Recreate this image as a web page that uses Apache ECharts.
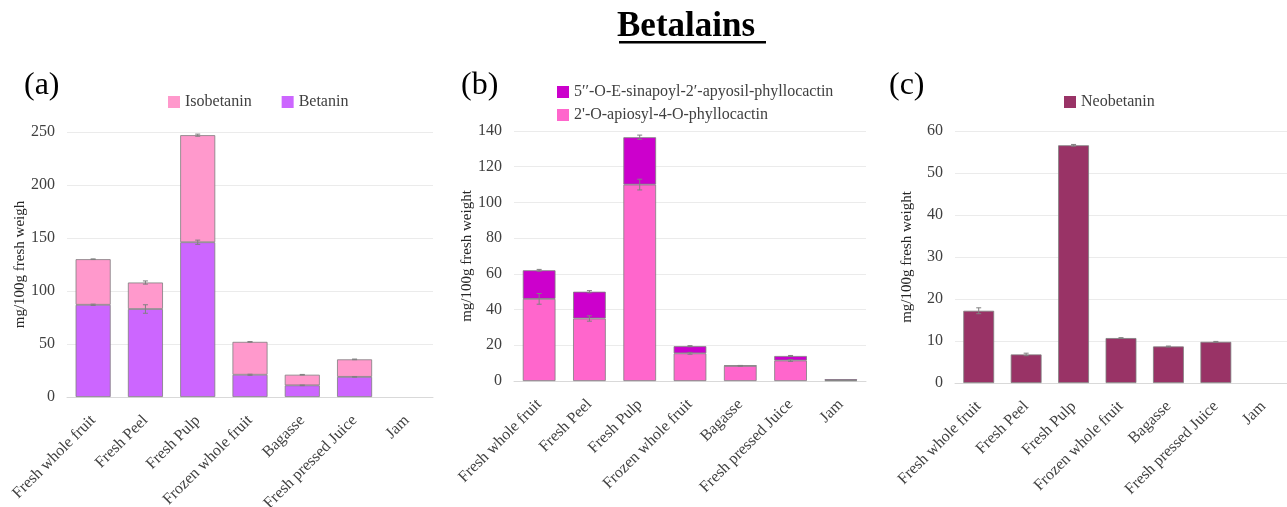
<!DOCTYPE html>
<html><head><meta charset="utf-8">
<script src="https://cdn.jsdelivr.net/npm/echarts@6/dist/echarts.min.js"></script>
<style>html,body{margin:0;padding:0;background:#fff}#c{width:1287px;height:507px}</style>
</head><body><div id="c"></div>
<script>
var categories = ['Fresh whole fruit','Fresh Peel','Fresh Pulp','Frozen whole fruit','Bagasse','Fresh pressed Juice','Jam'];
// panel (a)  (null = not detected)
var betanin = [87, 83, 146, 21, 11, 19, null];
var betaninErr = [0.6, 4, 2, 0.5, 0.3, 0.3, 0];
var isobetanin = [43, 25, 101, 31, 10, 16.5, null];
var isobetaninErr = [0.3, 1.5, 1, 0.3, 0.3, 0.3, 0];
// panel (b)
var apiosyl = [46, 35, 110, 15.5, 8.5, 11.5, 0.4];
var apiosylErr = [3, 1.5, 3, 0.5, 0.2, 0.5, 0];
var sinapoyl = [16, 15, 26.5, 4, 0.1, 2.5, 0.6];
var sinapoylErr = [0.5, 0.6, 1.2, 0.3, 0.1, 0.3, 0];
// panel (c)
var neobetanin = [17.2, 6.8, 56.6, 10.7, 8.7, 9.8, null];
var neobetaninErr = [0.7, 0.3, 0.2, 0.1, 0.1, 0.1, 0];

var yTicksA = {max: 250, interval: 50};
var yTicksB = {max: 140, interval: 20};
var yTicksC = {max: 60, interval: 10};

var FONT = 'Liberation Serif';
var TXT = '#404040';

function errData(base, err){
  return base.map(function(v,i){ return [i, v || 0, err[i]]; });
}
function cumulative(a,b){ return a.map(function(v,i){ return (v || 0) + (b[i] || 0); }); }

function errSeries(idx, data){
  return {
    type:'custom', xAxisIndex:idx, yAxisIndex:idx, z:10, silent:true,
    renderItem:function(params, api){
      var x = api.value(0), y = api.value(1), e = api.value(2);
      if(!e) return null;
      var hi = api.coord([x, y+e]), lo = api.coord([x, y-e]);
      var w = 2.5;
      var st = {stroke:'#808080', lineWidth:1};
      return {type:'group', children:[
        {type:'line', shape:{x1:hi[0],y1:hi[1],x2:lo[0],y2:lo[1]}, style:st},
        {type:'line', shape:{x1:hi[0]-w,y1:hi[1],x2:hi[0]+w,y2:hi[1]}, style:st},
        {type:'line', shape:{x1:lo[0]-w,y1:lo[1],x2:lo[0]+w,y2:lo[1]}, style:st}
      ]};
    },
    data:data
  };
}

function xAx(idx){
  return {type:'category', gridIndex:idx, data:categories,
    axisTick:{show:false},
    axisLine:{lineStyle:{color:'#d9d9d9'}},
    axisLabel:{interval:0, rotate:45, fontFamily:FONT, fontSize:16, color:TXT, margin:21}};
}
function yAx(idx, t, name, gap){
  return {type:'value', gridIndex:idx, min:0, max:t.max, interval:t.interval,
    name:name, nameLocation:'middle', nameGap:gap,
    nameTextStyle:{fontFamily:FONT, fontSize:15, color:'#262626'},
    axisLine:{show:false}, axisTick:{show:false},
    splitLine:{lineStyle:{color:'#ebebeb'}},
    axisLabel:{fontFamily:FONT, fontSize:16, color:TXT, margin:12}};
}
var border = {borderColor:'#7f7f7f', borderWidth:0.8};
function st(c){ return Object.assign({color:c}, border); }
var legText = {fontFamily:FONT, fontSize:16, color:TXT};

var chart = echarts.init(document.getElementById('c'), null, {renderer:'canvas'});
chart.setOption({
  animation:false,
  backgroundColor:'#fff',
  grid:[
    {left:67, width:366, top:132, height:265, outerBoundsMode:'none', containLabel:false},
    {left:514, width:352, top:131, height:250, outerBoundsMode:'none', containLabel:false},
    {left:955, width:332, top:131, height:252, outerBoundsMode:'none', containLabel:false}
  ],
  xAxis:[xAx(0), xAx(1), xAx(2)],
  yAxis:[yAx(0, yTicksA, 'mg/100g fresh weigh', 32), yAx(1, yTicksB, 'mg/100g fresh weight', 36), yAx(2, yTicksC, 'mg/100g fresh weight', 40)],
  legend:[
    {data:['Isobetanin','Betanin'], left:163, top:89, icon:'rect', itemWidth:12, itemHeight:12, itemGap:30, itemStyle:{borderWidth:0}, textStyle:legText},
    {data:['5′′-O-E-sinapoyl-2′-apyosil-phyllocactin','2\'-O-apiosyl-4-O-phyllocactin'], orient:'vertical', left:552, top:79, icon:'rect', itemWidth:12, itemHeight:12, itemGap:7, itemStyle:{borderWidth:0}, textStyle:legText},
    {data:['Neobetanin'], left:1059, top:89, icon:'rect', itemWidth:12, itemHeight:12, itemStyle:{borderWidth:0}, textStyle:legText}
  ],
  graphic:[
    {type:'text', left:617, top:9, style:{text:'Betalains', font:'bold 35px "Liberation Serif"', fill:'#000'}},
    {type:'rect', shape:{x:619, y:41, width:147, height:2.4}, style:{fill:'#000'}},
    {type:'text', left:24, top:70, style:{text:'(a)', font:'32px "Liberation Serif"', fill:'#000'}},
    {type:'text', left:461, top:70, style:{text:'(b)', font:'32px "Liberation Serif"', fill:'#000'}},
    {type:'text', left:889, top:70, style:{text:'(c)', font:'32px "Liberation Serif"', fill:'#000'}}
  ],
  series:[
    {name:'Betanin', type:'bar', stack:'a', xAxisIndex:0, yAxisIndex:0, barWidth:'67%', itemStyle:st('#cc66ff'), data:betanin},
    {name:'Isobetanin', type:'bar', stack:'a', xAxisIndex:0, yAxisIndex:0, barWidth:'67%', itemStyle:st('#ff99cc'), data:isobetanin},
    errSeries(0, errData(betanin, betaninErr)),
    errSeries(0, errData(cumulative(betanin, isobetanin), isobetaninErr)),
    {name:'2\'-O-apiosyl-4-O-phyllocactin', type:'bar', stack:'b', xAxisIndex:1, yAxisIndex:1, barWidth:'65%', itemStyle:st('#ff66cc'), data:apiosyl},
    {name:'5′′-O-E-sinapoyl-2′-apyosil-phyllocactin', type:'bar', stack:'b', xAxisIndex:1, yAxisIndex:1, barWidth:'65%', itemStyle:st('#cc00cc'), data:sinapoyl},
    errSeries(1, errData(apiosyl, apiosylErr)),
    errSeries(1, errData(cumulative(apiosyl, sinapoyl), sinapoylErr)),
    {name:'Neobetanin', type:'bar', xAxisIndex:2, yAxisIndex:2, barWidth:'65%', itemStyle:st('#993366'), data:neobetanin},
    errSeries(2, errData(neobetanin, neobetaninErr))
  ]
});
</script></body></html>
